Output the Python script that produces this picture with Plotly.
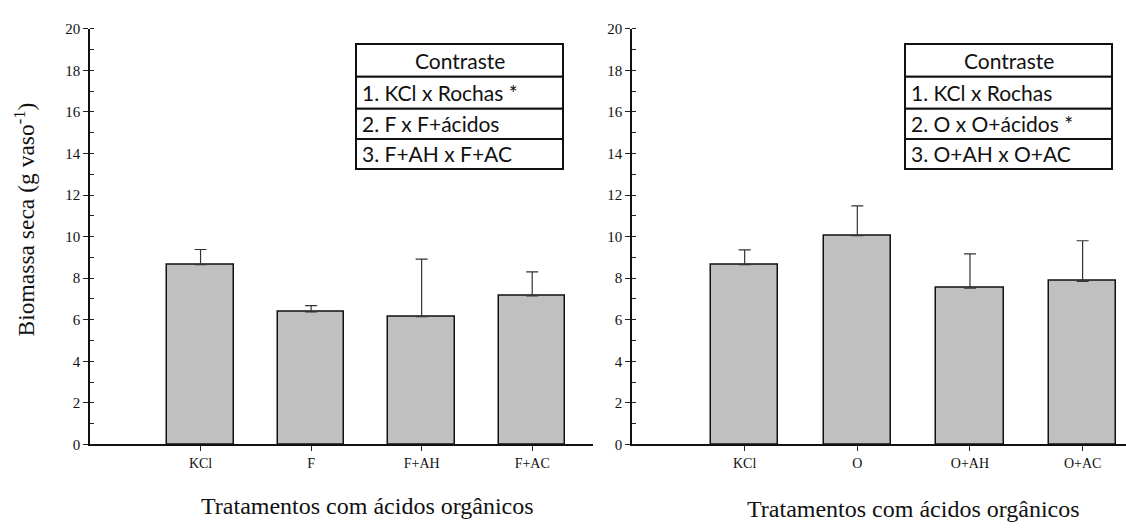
import plotly.graph_objects as go

W, H = 1126, 528

# Treatment groups and dry biomass (mean and mean + SD), g per pot
cats_left = ["KCl", "F", "F+AH", "F+AC"]
means_left = [8.65, 6.38, 6.15, 7.15]
upper_left = [9.38, 6.68, 8.92, 8.30]

cats_right = ["KCl", "O", "O+AH", "O+AC"]
means_right = [8.65, 10.05, 7.52, 7.85]
upper_right = [9.36, 11.48, 9.17, 9.80]

contrasts_left = ["Contraste", "1. KCl x Rochas *", "2. F x F+ácidos", "3. F+AH x F+AC"]
contrasts_right = ["Contraste", "1. KCl x Rochas", "2. O x O+ácidos *", "3. O+AH x O+AC"]

SERIF = "Liberation Serif, Times New Roman, serif"
BOX_FONT = "Lato, Carlito, Calibri, sans-serif"


def px_x(p):
    return p / W


def px_y(p):
    return 1 - p / H


def bar_trace(cats, means, upper, xa, ya):
    pos = list(range(1, len(cats) + 1))
    err = [u - m for u, m in zip(upper, means)]
    return go.Bar(
        x=pos, y=means, width=0.6, xaxis=xa, yaxis=ya,
        marker=dict(color="#c0c0c0", line=dict(color="#111111", width=1.5)),
        error_y=dict(type="data", symmetric=False, array=err,
                     arrayminus=[0] * len(err), color="#333333",
                     thickness=1.2, width=6),
        showlegend=False, hoverinfo="x+y",
    )


fig = go.Figure()
fig.add_trace(bar_trace(cats_left, means_left, upper_left, "x", "y"))
fig.add_trace(bar_trace(cats_right, means_right, upper_right, "x2", "y2"))

y_dom = [px_y(450), px_y(21.5)]

common_x = dict(
    tickvals=[1, 2, 3, 4], ticks="outside", ticklen=5, tickwidth=1,
    tickcolor="#222", showline=True, linecolor="#111", linewidth=1.5,
    showgrid=False, zeroline=False, tickfont=dict(family=SERIF, size=14, color="#111"),
    fixedrange=True,
)
common_y = dict(
    range=[0, 20], tick0=0, dtick=2, ticks="outside", ticklen=5, tickwidth=1,
    tickcolor="#222", showline=True, linecolor="#111", linewidth=1.5,
    showgrid=False, zeroline=False, domain=y_dom,
    tickfont=dict(family=SERIF, size=15, color="#111"),
    minor=dict(dtick=1, ticks="inside", ticklen=4, tickwidth=1, tickcolor="#222"),
    fixedrange=True,
)

fig.update_layout(
    width=W, height=H, margin=dict(l=0, r=0, t=0, b=0),
    plot_bgcolor="white", paper_bgcolor="white",
    bargap=0,
    xaxis=dict(domain=[px_x(90), px_x(593)], range=[0, 4.55],
               ticktext=cats_left, anchor="y", **common_x),
    yaxis=dict(anchor="x", **common_y),
    xaxis2=dict(domain=[px_x(632), 1.0], range=[0, 4.385],
                ticktext=cats_right, anchor="y2", **common_x),
    yaxis2=dict(anchor="x2", **common_y),
)

# Axis titles
fig.add_annotation(x=px_x(25), y=px_y(218), xref="paper", yref="paper",
                   text="Biomassa seca (g vaso<sup>-1</sup>)", textangle=-90,
                   showarrow=False, xanchor="center", yanchor="middle",
                   font=dict(family=SERIF, size=23.5, color="#111"))
fig.add_annotation(x=px_x(367), y=px_y(514), xref="paper", yref="paper",
                   text="Tratamentos com ácidos orgânicos", showarrow=False,
                   xanchor="center", yanchor="middle",
                   font=dict(family=SERIF, size=24, color="#111"))
fig.add_annotation(x=px_x(913), y=px_y(517), xref="paper", yref="paper",
                   text="Tratamentos com ácidos orgânicos", showarrow=False,
                   xanchor="center", yanchor="middle",
                   font=dict(family=SERIF, size=24, color="#111"))


# Contrast tables
def add_table(rows, x0, x1, y_edges):
    for i, label in enumerate(rows):
        top, bot = y_edges[i], y_edges[i + 1]
        fig.add_shape(type="rect", xref="paper", yref="paper",
                      x0=px_x(x0), x1=px_x(x1), y0=px_y(bot), y1=px_y(top),
                      line=dict(color="#111", width=2), fillcolor="white")
        mid = (top + bot) / 2
        if i == 0:
            fig.add_annotation(x=px_x((x0 + x1) / 2), y=px_y(mid), xref="paper",
                               yref="paper", text=label, showarrow=False,
                               xanchor="center", yanchor="middle",
                               font=dict(family=BOX_FONT, size=21, color="#111"))
        else:
            fig.add_annotation(x=px_x(x0 + 4), y=px_y(mid), xref="paper",
                               yref="paper", text=label, showarrow=False,
                               xanchor="left", yanchor="middle",
                               font=dict(family=BOX_FONT, size=21, color="#111"))


edges = [37, 71, 104, 135, 166]
add_table(contrasts_left, 356, 563, edges)
add_table(contrasts_right, 905, 1112, edges)

fig.write_html("out.html")
